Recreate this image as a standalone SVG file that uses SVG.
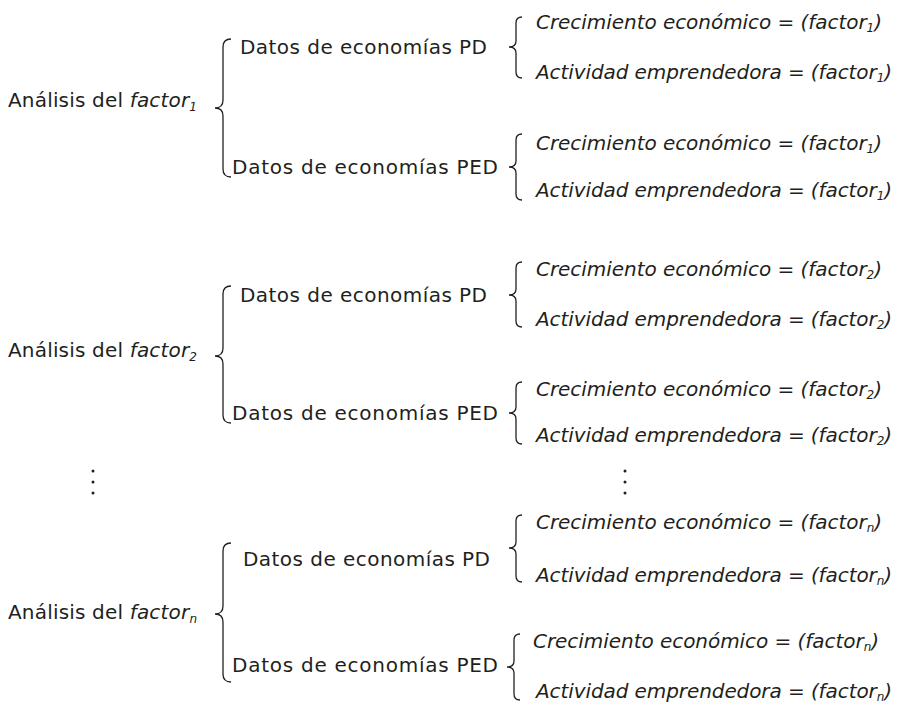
<svg xmlns="http://www.w3.org/2000/svg" width="903" height="704" viewBox="0 0 903 704">
<style>
text{font-family:"DejaVu Sans","Liberation Sans",sans-serif;font-size:20px;fill:#231f20}
.i{font-style:italic}
.s{font-size:12px}
.b{fill:none;stroke:#231f20;stroke-width:1.3}
</style>
<rect width="903" height="704" fill="#fff"/>
<g id="connectors">
<path class="b" d="M231,39 Q223,39 223,47 L223,100 Q223,108 215,108 Q223,108 223,116 L223,169 Q223,177 231,177"/>
<path class="b" d="M522,17 Q516,17 516,23 L516,41 Q516,47 509,47 Q516,47 516,53 L516,72 Q516,78 522,78"/>
<path class="b" d="M522,134 Q516,134 516,140 L516,161 Q516,167 509,167 Q516,167 516,173 L516,194 Q516,200 522,200"/>
<path class="b" d="M231,286 Q223,286 223,294 L223,348 Q223,356 215,356 Q223,356 223,364 L223,415 Q223,423 231,423"/>
<path class="b" d="M522,262 Q516,262 516,268 L516,289 Q516,295 509,295 Q516,295 516,301 L516,321 Q516,327 522,327"/>
<path class="b" d="M522,382 Q516,382 516,388 L516,407 Q516,413 509,413 Q516,413 516,419 L516,438 Q516,444 522,444"/>
<path class="b" d="M231,543 Q223,543 223,551 L223,606 Q223,614 215,614 Q223,614 223,622 L223,674 Q223,682 231,682"/>
<path class="b" d="M522,515 Q516,515 516,521 L516,542 Q516,548 509,548 Q516,548 516,554 L516,576 Q516,582 522,582"/>
<path class="b" d="M520,634 Q514,634 514,640 L514,661 Q514,667 507,667 Q514,667 514,673 L514,694 Q514,700 520,700"/>
</g>
<g id="block1">
<text x="8" y="107" textLength="189">Análisis del <tspan class="i">factor</tspan><tspan class="i s" dy="4">1</tspan></text>
<text x="240" y="54" textLength="247">Datos de economías PD</text>
<text x="232" y="174" textLength="266">Datos de economías PED</text>
<text class="i" x="536" y="29" textLength="346">Crecimiento económico = (factor<tspan class="s" dy="3">1</tspan><tspan dy="-3">)</tspan></text>
<text class="i" x="536" y="79" textLength="356">Actividad emprendedora = (factor<tspan class="s" dy="3">1</tspan><tspan dy="-3">)</tspan></text>
<text class="i" x="536" y="150" textLength="346">Crecimiento económico = (factor<tspan class="s" dy="3">1</tspan><tspan dy="-3">)</tspan></text>
<text class="i" x="536" y="197" textLength="356">Actividad emprendedora = (factor<tspan class="s" dy="3">1</tspan><tspan dy="-3">)</tspan></text>
</g>
<g id="block2">
<text x="8" y="357" textLength="189">Análisis del <tspan class="i">factor</tspan><tspan class="i s" dy="4">2</tspan></text>
<text x="240" y="302" textLength="247">Datos de economías PD</text>
<text x="232" y="420" textLength="266">Datos de economías PED</text>
<text class="i" x="536" y="276" textLength="346">Crecimiento económico = (factor<tspan class="s" dy="3">2</tspan><tspan dy="-3">)</tspan></text>
<text class="i" x="536" y="326" textLength="356">Actividad emprendedora = (factor<tspan class="s" dy="3">2</tspan><tspan dy="-3">)</tspan></text>
<text class="i" x="536" y="396" textLength="346">Crecimiento económico = (factor<tspan class="s" dy="3">2</tspan><tspan dy="-3">)</tspan></text>
<text class="i" x="536" y="442" textLength="356">Actividad emprendedora = (factor<tspan class="s" dy="3">2</tspan><tspan dy="-3">)</tspan></text>
</g>
<g id="dots">
<circle cx="93" cy="471" r="1.5" fill="#231f20"/>
<circle cx="93" cy="482" r="1.5" fill="#231f20"/>
<circle cx="93" cy="493" r="1.5" fill="#231f20"/>
<circle cx="625" cy="471" r="1.5" fill="#231f20"/>
<circle cx="625" cy="482" r="1.5" fill="#231f20"/>
<circle cx="625" cy="493" r="1.5" fill="#231f20"/>
</g>
<g id="block3">
<text x="8" y="619" textLength="189">Análisis del <tspan class="i">factor</tspan><tspan class="i s" dy="4">n</tspan></text>
<text x="243" y="566" textLength="247">Datos de economías PD</text>
<text x="232" y="672" textLength="266">Datos de economías PED</text>
<text class="i" x="536" y="529" textLength="346">Crecimiento económico = (factor<tspan class="s" dy="3">n</tspan><tspan dy="-3">)</tspan></text>
<text class="i" x="536" y="582" textLength="356">Actividad emprendedora = (factor<tspan class="s" dy="3">n</tspan><tspan dy="-3">)</tspan></text>
<text class="i" x="533" y="648" textLength="346">Crecimiento económico = (factor<tspan class="s" dy="3">n</tspan><tspan dy="-3">)</tspan></text>
<text class="i" x="536" y="698" textLength="356">Actividad emprendedora = (factor<tspan class="s" dy="3">n</tspan><tspan dy="-3">)</tspan></text>
</g>
</svg>
